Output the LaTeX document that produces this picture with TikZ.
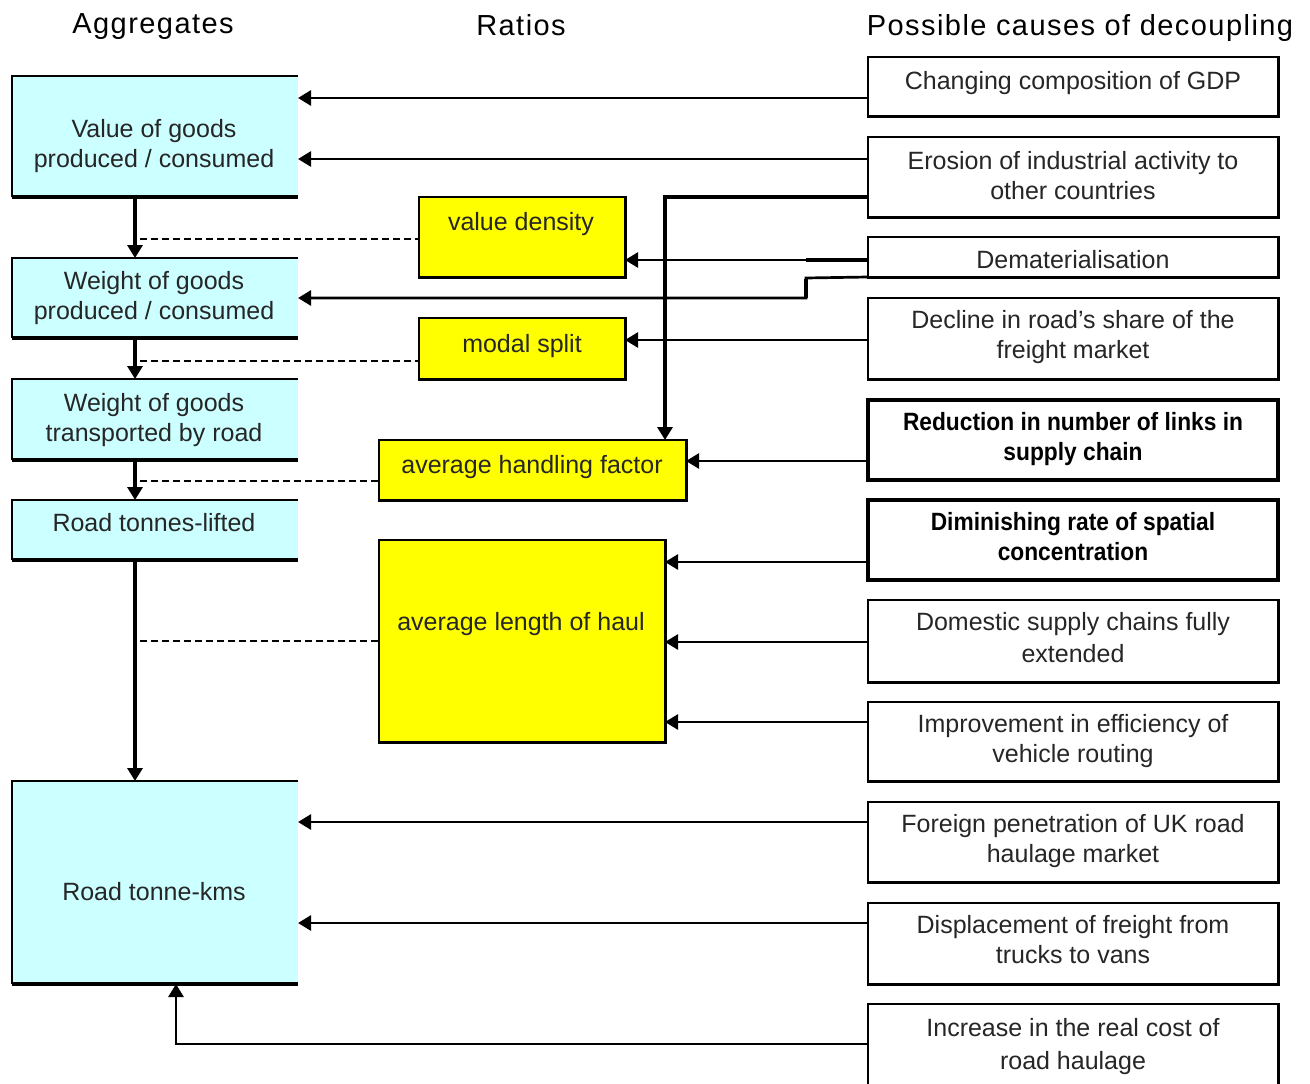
\documentclass[tikz,border=0pt]{standalone}
\usepackage{fontspec}
\setmainfont{Liberation Sans}
\newfontfamily\hdrfont[LetterSpace=5]{Liberation Sans}
\newfontfamily\bcond[FakeStretch=0.91]{Liberation Sans}
\usetikzlibrary{arrows.meta}
\definecolor{boxcyan}{HTML}{CCFFFF}
\definecolor{boxyellow}{HTML}{FFFF00}
\tikzset{
  box/.style={inner sep=0pt, outer sep=0pt, anchor=north west},
  cyanbox/.style={box, fill=boxcyan, minimum width=286pt},
  ylwbox/.style={box, fill=boxyellow, draw=black, line width=1.8pt},
  causebox/.style={box, fill=white, draw=black, line width=1.8pt, minimum width=410pt},
  boldbox/.style={box, fill=white, draw=black, line width=3.5pt, minimum width=410pt},
  txt/.style={align=center, inner sep=0pt, text=black!85},
  btxt/.style={align=center, inner sep=0pt, font=\fontsize{25}{30}\selectfont\bcond\bfseries},
  hdr/.style={anchor=base, inner sep=0pt, font=\fontsize{29}{34}\selectfont\hdrfont},
  arr/.style={line width=2.7pt, -{Triangle[length=13pt,width=15pt]}},
  flow/.style={line width=4pt, -{Triangle[length=13pt,width=15pt]}},
  dashlink/.style={line width=2.7pt, dash pattern=on 7pt off 4pt},
  shadowedge/.style={line width=3pt, line cap=rect},
}
\begin{document}
\begin{tikzpicture}[x=1pt, y=-1pt, font=\fontsize{25}{30}\selectfont]
\useasboundingbox[fill=white] (0,0) rectangle (1310,1084);

% headers
\node[hdr] (h1) at (153,34) {Aggregates};
\node[hdr] (h2) at (521,35) {Ratios};
\node[hdr] (h3) at (1080,35) {Possible causes of decoupling};

% aggregate boxes
\node[cyanbox, minimum height=121pt] (b1) at (12,76) {};
\node[cyanbox, minimum height=80pt]  (b2) at (12,258) {};
\node[cyanbox, minimum height=81pt]  (b3) at (12,379) {};
\node[cyanbox, minimum height=60pt]  (b4) at (12,500) {};
\node[cyanbox, minimum height=203pt] (b5) at (12,781) {};
\foreach \n in {b1,b2,b3,b4,b5}{
  \draw[line width=1.8pt] (\n.north east) -- (\n.north west) -- (\n.south west);
  \draw[line width=4pt] (\n.south west) -- (\n.south east);
}
\node[txt] (b1t) at (154,146) {Value of goods\\produced / consumed};
\node[txt] (b2t) at (154,298) {Weight of goods\\produced / consumed};
\node[txt] (b3t) at (154,420) {Weight of goods\\transported by road};
\node[txt] (b4t) at (154,523) {Road tonnes-lifted};
\node[txt] (b5t) at (154,892) {Road tonne-kms};

% ratio boxes
\node[ylwbox, minimum width=206pt, minimum height=80pt] (vd) at (419,197) {};
\node[ylwbox, minimum width=206pt, minimum height=61pt] (ms) at (419,318) {};
\node[ylwbox, minimum width=307pt, minimum height=60pt] (ahf) at (379,440) {};
\node[ylwbox, minimum width=286pt, minimum height=202pt] (alh) at (379,540) {};
\foreach \n in {vd,ms,ahf,alh}{
  \draw[shadowedge] (\n.south west) -- (\n.south east) -- (\n.north east);
}
\node[txt] (vdt) at (521,224) {value density};
\node[txt] (mst) at (522,346) {modal split};
\node[txt] (ahft) at (532,467) {average handling factor};
\node[txt] (alht) at (521,624) {average length of haul};

% cause boxes
\node[causebox, minimum height=59pt] (r1) at (868,57) {};
\node[causebox, minimum height=80pt] (r2) at (868,137) {};
\node[causebox, minimum height=40pt] (r3) at (868,237) {};
\node[causebox, minimum height=81pt] (r4) at (868,298) {};
\node[boldbox, minimum height=80pt] (r5) at (868,400) {};
\node[boldbox, minimum height=80pt] (r6) at (868,500) {};
\node[causebox, minimum height=82pt] (r7) at (868,600) {};
\node[causebox, minimum height=79pt] (r8) at (868,702) {};
\node[causebox, minimum height=80pt] (r9) at (868,802) {};
\node[causebox, minimum height=81pt] (r10) at (868,903) {};
\node[causebox, minimum height=100pt] (r11) at (868,1004) {};
\foreach \n in {r1,r2,r3,r4,r7,r8,r9,r10,r11}{
  \draw[shadowedge] (\n.south west) -- (\n.south east) -- (\n.north east);
}
\node[txt] (r1t) at (1073,83.5) {Changing composition of GDP};
\node[txt] (r2t) at (1073,175.5) {Erosion of industrial activity to\\other countries};
\node[txt] (r3t) at (1073,260) {Dematerialisation};
\node[txt] (r4t) at (1073,337.5) {Decline in road's share of the\\freight market};
\node[btxt] (r5t) at (1073,439.5) {Reduction in number of links in\\supply chain};
\node[btxt] (r6t) at (1073,536.5) {Diminishing rate of spatial\\concentration};
\node[txt, font=\fontsize{25}{32}\selectfont] (r7t) at (1073,637.5) {Domestic supply chains fully\\extended};
\node[txt] (r8t) at (1073,741.5) {Improvement in efficiency of\\vehicle routing};
\node[txt] (r9t) at (1073,841.5) {Foreign penetration of UK road\\haulage market};
\node[txt] (r10t) at (1073,939.5) {Displacement of freight from\\trucks to vans};
\node[txt, font=\fontsize{25}{33}\selectfont] (r11t) at (1073,1047) {Increase in the real cost of\\road haulage};

% flow arrows between aggregates
\draw[flow] (b1.south -| 135,0) -- (b2.north -| 135,0);
\draw[flow] (b2.south -| 135,0) -- (b3.north -| 135,0);
\draw[flow] (b3.south -| 135,0) -- (b4.north -| 135,0);
\draw[flow] (b4.south -| 135,0) -- (b5.north -| 135,0);

% dashed ratio links
\draw[dashlink] (140,239) -- (vd.west |- 0,239);
\draw[dashlink] (140,361) -- (ms.west |- 0,361);
\draw[dashlink] (140,481) -- (ahf.west |- 0,481);
\draw[dashlink] (140,641) -- (alh.west |- 0,641);

% cause connectors
\draw[arr] (r1.west |- 0,98) -- (b1.east |- 0,98);
\draw[arr] (r2.west |- 0,159) -- (b1.east |- 0,159);
\draw[arr, line width=3.5pt] (r2.west |- 0,197) -| (ahf.north -| 665,0);
\draw[arr] (r3.west |- 0,260) -- (vd.east |- 0,260);
\draw[line width=4pt] (806,260) -- (r3.west |- 0,260);
\draw[arr] (r3.south west) -- (806,278) -- (806,298) -- (b2.east |- 0,298);
\draw[line width=4pt] (806,279) -- (806,298);
\draw[arr] (r4.west |- 0,340) -- (ms.east |- 0,340);
\draw[arr] (r5.west |- 0,461) -- (ahf.east |- 0,461);
\draw[arr] (r6.west |- 0,562) -- (alh.east |- 0,562);
\draw[arr] (r7.west |- 0,642) -- (alh.east |- 0,642);
\draw[arr] (r8.west |- 0,722) -- (alh.east |- 0,722);
\draw[arr] (r9.west |- 0,822) -- (b5.east |- 0,822);
\draw[arr] (r10.west |- 0,923) -- (b5.east |- 0,923);
\draw[arr] (r11.west |- 0,1044) -| (b5.south -| 176,0);
\end{tikzpicture}
\end{document}
